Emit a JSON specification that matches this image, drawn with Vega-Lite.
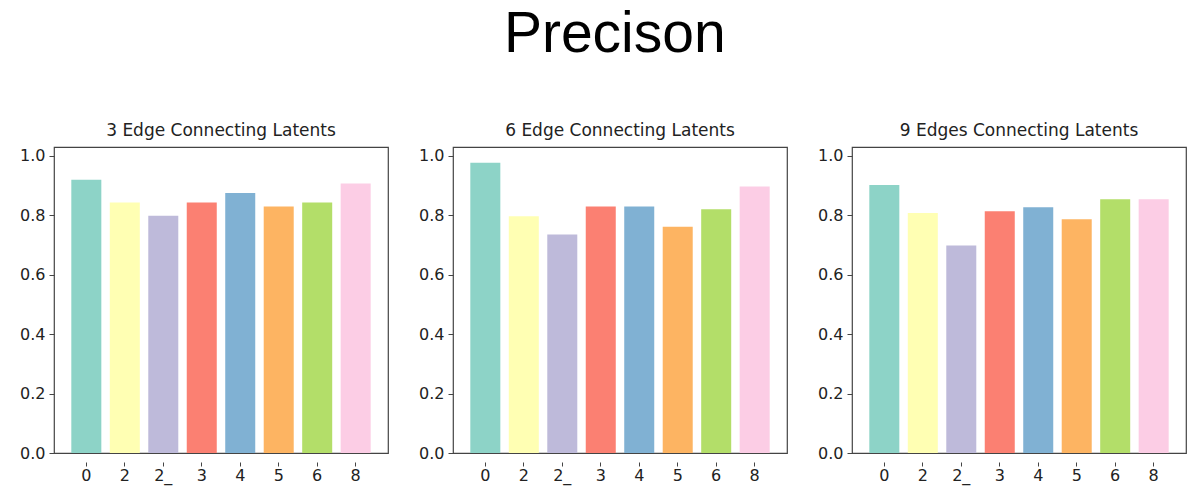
{
  "$schema": "https://vega.github.io/schema/vega-lite/v6.json",
  "padding": {"left": 18, "top": 6, "right": 5, "bottom": 5},
  "background": "white",
  "title": {
    "text": "Precison",
    "font": "Liberation Sans",
    "fontSize": 57,
    "fontWeight": "normal",
    "color": "#000000",
    "anchor": "middle",
    "offset": 58,
    "dx": 12
  },
  "data": {
    "values": [
      {"panel": "3 Edge Connecting Latents", "cls": "0", "precision": 0.919},
      {"panel": "3 Edge Connecting Latents", "cls": "2", "precision": 0.842},
      {"panel": "3 Edge Connecting Latents", "cls": "2_", "precision": 0.798},
      {"panel": "3 Edge Connecting Latents", "cls": "3", "precision": 0.842},
      {"panel": "3 Edge Connecting Latents", "cls": "4", "precision": 0.874},
      {"panel": "3 Edge Connecting Latents", "cls": "5", "precision": 0.829},
      {"panel": "3 Edge Connecting Latents", "cls": "6", "precision": 0.842},
      {"panel": "3 Edge Connecting Latents", "cls": "8", "precision": 0.906},
      {"panel": "6 Edge Connecting Latents", "cls": "0", "precision": 0.976},
      {"panel": "6 Edge Connecting Latents", "cls": "2", "precision": 0.796},
      {"panel": "6 Edge Connecting Latents", "cls": "2_", "precision": 0.735},
      {"panel": "6 Edge Connecting Latents", "cls": "3", "precision": 0.829},
      {"panel": "6 Edge Connecting Latents", "cls": "4", "precision": 0.829},
      {"panel": "6 Edge Connecting Latents", "cls": "5", "precision": 0.761},
      {"panel": "6 Edge Connecting Latents", "cls": "6", "precision": 0.82},
      {"panel": "6 Edge Connecting Latents", "cls": "8", "precision": 0.896},
      {"panel": "9 Edges Connecting Latents", "cls": "0", "precision": 0.901},
      {"panel": "9 Edges Connecting Latents", "cls": "2", "precision": 0.807},
      {"panel": "9 Edges Connecting Latents", "cls": "2_", "precision": 0.698},
      {"panel": "9 Edges Connecting Latents", "cls": "3", "precision": 0.813},
      {"panel": "9 Edges Connecting Latents", "cls": "4", "precision": 0.826},
      {"panel": "9 Edges Connecting Latents", "cls": "5", "precision": 0.786},
      {"panel": "9 Edges Connecting Latents", "cls": "6", "precision": 0.853},
      {"panel": "9 Edges Connecting Latents", "cls": "8", "precision": 0.853}
    ]
  },
  "spacing": 28,
  "resolve": {"axis": {"y": "independent"}},
  "facet": {
    "column": {
      "field": "panel",
      "type": "nominal",
      "header": {
        "title": null,
        "labelFont": "DejaVu Sans",
        "labelFontSize": 17,
        "labelColor": "#222222",
        "labelPadding": 6
      }
    }
  },
  "spec": {
    "width": 334,
    "height": 306,
    "view": {"stroke": "#444444", "strokeWidth": 1.2},
    "mark": {"type": "bar"},
    "encoding": {
      "x": {
        "field": "cls",
        "type": "nominal",
        "sort": ["0", "2", "2_", "3", "4", "5", "6", "8"],
        "scale": {"paddingInner": 0.22, "paddingOuter": 0.45},
        "axis": {
          "title": null,
          "labelAngle": 0,
          "domain": false,
          "tickColor": "#444444",
          "tickSize": 4,
          "labelFont": "DejaVu Sans",
          "labelFontSize": 16,
          "labelColor": "#222222",
          "labelPadding": 1,
          "labelOverlap": false
        }
      },
      "y": {
        "field": "precision",
        "type": "quantitative",
        "scale": {"domain": [0, 1.029], "nice": false},
        "axis": {
          "title": null,
          "values": [0, 0.2, 0.4, 0.6, 0.8, 1.0],
          "format": ".1f",
          "grid": false,
          "domain": false,
          "tickColor": "#444444",
          "tickSize": 5,
          "labelFont": "DejaVu Sans",
          "labelFontSize": 16,
          "labelColor": "#222222",
          "labelPadding": 4
        }
      },
      "color": {
        "field": "cls",
        "type": "nominal",
        "sort": ["0", "2", "2_", "3", "4", "5", "6", "8"],
        "scale": {"range": ["#8dd3c7", "#ffffb3", "#bebada", "#fb8072", "#80b1d3", "#fdb462", "#b3de69", "#fccde5"]},
        "legend": null
      }
    }
  }
}
